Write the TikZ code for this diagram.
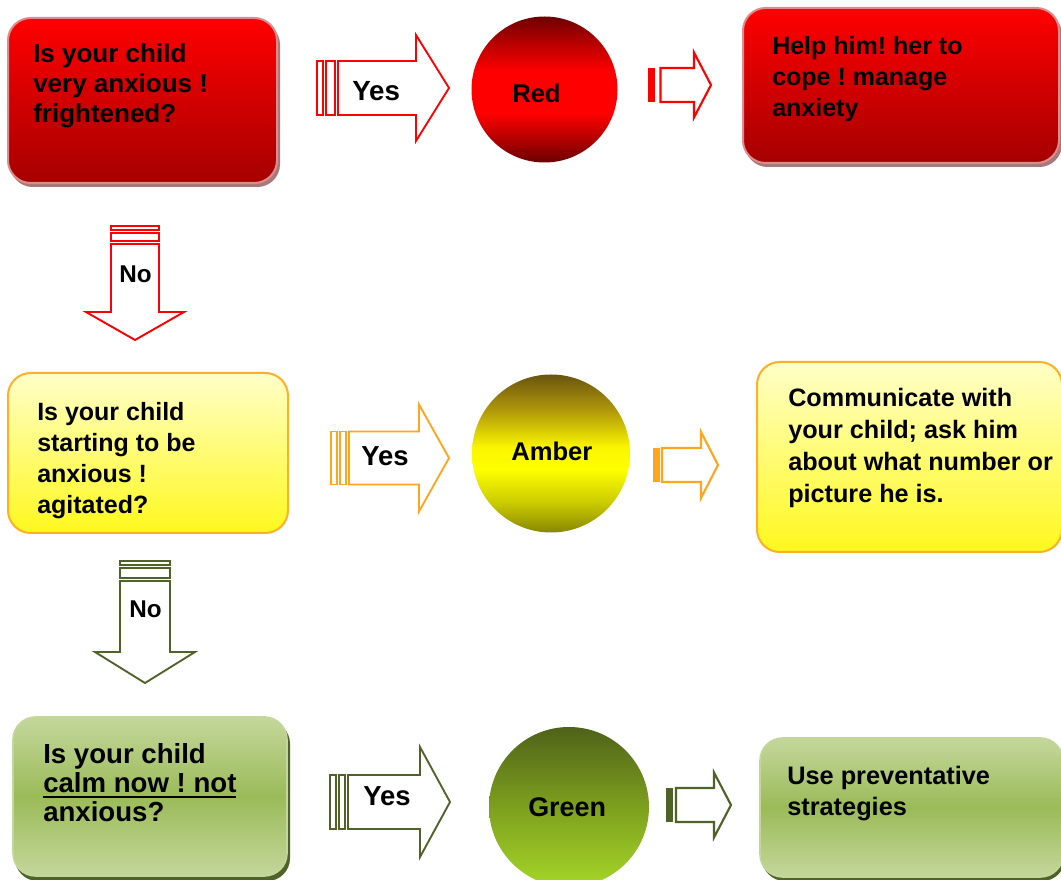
\documentclass[tikz,border=0pt]{standalone}
\usepackage{fontspec}
\setmainfont{Liberation Sans}
\frenchspacing
\definecolor{rArr}{RGB}{255,0,0}
\definecolor{oArr}{RGB}{255,165,30}
\definecolor{gArr}{RGB}{79,98,40}
\definecolor{redTop}{RGB}{255,0,0}
\definecolor{redBot}{RGB}{165,0,0}
\definecolor{redEdge}{RGB}{220,140,140}
\definecolor{redShadow}{RGB}{120,50,50}
\definecolor{yelTop}{RGB}{255,255,200}
\definecolor{yelBot}{RGB}{255,248,30}
\definecolor{yelEdge}{RGB}{255,175,40}
\definecolor{grnLight}{RGB}{196,215,155}
\definecolor{grnMid}{RGB}{155,187,89}
\definecolor{grnShadow}{RGB}{79,98,40}
\pgfdeclareverticalshading{redball}{100bp}{%
  color(0bp)=(red!42!black); color(25bp)=(red!42!black); color(33bp)=(red!70!black);
  color(42bp)=(red); color(56bp)=(red); color(66bp)=(red!72!black);
  color(75bp)=(red!43!black); color(100bp)=(red!43!black)}
\pgfdeclareverticalshading{amberball}{100bp}{%
  color(0bp)=(rgb,255:red,135;green,135;blue,0); color(25bp)=(rgb,255:red,135;green,135;blue,0);
  color(34bp)=(rgb,255:red,200;green,200;blue,0); color(45bp)=(rgb,255:red,255;green,255;blue,0);
  color(52bp)=(rgb,255:red,250;green,245;blue,0); color(64bp)=(rgb,255:red,175;green,150;blue,10);
  color(75bp)=(rgb,255:red,105;green,85;blue,15); color(100bp)=(rgb,255:red,105;green,85;blue,15)}
\newcommand\ulin[1]{\setbox0\hbox{#1}\rlap{\rule[-4.6pt]{\wd0}{1.6pt}}\box0}
% big right block arrow: colour, stripe start, body left, head base, tip, centre y, half body, half head
\newcommand\bigright[8]{%
  \draw[#1,line width=1.1pt] (#2,#6-#7) rectangle (#2+6,#6+#7);
  \draw[#1,line width=1.1pt] (#2+9,#6-#7) rectangle (#3-3,#6+#7);
  \draw[#1,line width=1.4pt,line join=miter] (#3,#6-#7) -- (#4,#6-#7) -- (#4,#6-#8) -- (#5,#6) -- (#4,#6+#8) -- (#4,#6+#7) -- (#3,#6+#7) -- cycle;}
% small right block arrow: colour, bar start, body left, head base, tip, centre y, half body, half head
\newcommand\smallright[8]{%
  \fill[#1] (#2,#6-#7) rectangle (#2+7,#6+#7);
  \draw[#1,line width=1.6pt,line join=miter] (#3,#6-#7) -- (#4,#6-#7) -- (#4,#6-#8) -- (#5,#6) -- (#4,#6+#8) -- (#4,#6+#7) -- (#3,#6+#7) -- cycle;}
% big down block arrow: colour, stripe top, body top, head base, tip, centre x, half body, half head
\newcommand\bigdown[8]{%
  \draw[#1,line width=1.1pt] (#6-#7,#2) rectangle (#6+#7,#2+4);
  \draw[#1,line width=1.1pt] (#6-#7,#2+7) rectangle (#6+#7,#3-3);
  \draw[#1,line width=1.4pt,line join=miter] (#6-#7,#3) -- (#6-#7,#4) -- (#6-#8,#4) -- (#6,#5) -- (#6+#8,#4) -- (#6+#7,#4) -- (#6+#7,#3) -- cycle;}
\tikzset{
  txt/.style 2 args={anchor=base west, inner sep=0pt, font=\bfseries\fontsize{#1}{#2}\selectfont},
  redbox/.style={rounded corners=17pt, top color=redTop, bottom color=redBot, draw=redEdge, line width=1.5pt},
  redshadow/.style={rounded corners=17pt, fill=redShadow, fill opacity=0.65},
  yelbox/.style={rounded corners=17pt, top color=yelTop, bottom color=yelBot, draw=yelEdge, line width=1.5pt},
  grnbox/.style={rounded corners=17pt, top color=grnLight, bottom color=grnLight, middle color=grnMid, draw=grnLight, line width=1.2pt},
  grnshadow/.style={rounded corners=17pt, fill=grnShadow},
  ball/.style={circle, inner sep=0pt, minimum size=#1},
}
\begin{document}
\begin{tikzpicture}[x=0.75pt,y=-0.75pt]
\useasboundingbox (0,0) rectangle (1061,880);
\clip (0,0) rectangle (1061,880);
\fill[white] (0,0) rectangle (1061,880);

% ---------- row 1 (red) ----------
\fill[redshadow] (10,22) rectangle (280,187);
\draw[redbox] (8,18) rectangle (277,183);
\node[txt={19.5}{22.5}] (q1) at (33,63) {\begin{tabular}[t]{@{}l@{}}Is your child\\very anxious !\\frightened?\end{tabular}};

\bigright{rArr}{317}{338}{416}{449}{88}{27}{53}
\node[txt={20.8}{24}] (y1) at (352,101) {Yes};

\node[ball=109.5pt, shading=redball] (c1) at (544.5,89.5) {};
\node[txt={19.2}{22}] (c1t) at (512,103) {Red};

\smallright{rArr}{648}{660.5}{694}{711}{85}{17}{32.5}

\fill[redshadow] (745,12) rectangle (1062,167);
\draw[redbox] (743,8) rectangle (1059,163);
\node[txt={18.75}{23.25}] (a1) at (772,55) {\begin{tabular}[t]{@{}l@{}}Help him! her to\\cope ! manage\\anxiety\end{tabular}};

% ---------- down arrow 1 ----------
\bigdown{rArr}{226}{244}{312}{340}{135}{24}{49}
\node[txt={18.2}{22}] (n1) at (119,283) {No};

% ---------- row 2 (amber) ----------
\draw[yelbox] (8,373) rectangle (288,533);
\node[txt={18.75}{23.25}] (q2) at (37,421) {\begin{tabular}[t]{@{}l@{}}Is your child\\starting to be\\anxious !\\agitated?\end{tabular}};

\bigright{oArr}{331}{349}{419}{449}{458}{26.5}{53.5}
\node[txt={20.6}{24}] (y2) at (361,466) {Yes};

\node[ball=118.5pt, shading=amberball] (c2) at (551,453.5) {};
\node[txt={19.2}{22}] (c2t) at (511,461) {Amber};

\smallright{oArr}{653}{662}{701}{718}{465}{17}{33}

\draw[yelbox] (757,362) rectangle (1062,552);
\node[txt={18.9}{24}] (a2) at (788,407) {\begin{tabular}[t]{@{}l@{}}Communicate with\\your child; ask him\\about what number or\\picture he is.\end{tabular}};

% ---------- down arrow 2 ----------
\bigdown{gArr}{561}{581}{652}{683}{145}{25}{50}
\node[txt={18.2}{22}] (n2) at (129,618) {No};

% ---------- row 3 (green) ----------
\fill[grnshadow] (15,721) rectangle (290,881);
\draw[grnbox] (13,717) rectangle (287,876);
\node[txt={20.7}{21.75}] (q3) at (43,763) {\begin{tabular}[t]{@{}l@{}}Is your child\\\ulin{calm now ! not}\\anxious?\end{tabular}};

\bigright{gArr}{330}{348}{420}{450}{802}{27}{55}
\node[txt={20.6}{24}] (y3) at (363,805) {Yes};

\node[ball=120pt, top color={rgb,255:red,79;green,98;blue,25}, bottom color={rgb,255:red,166;green,214;blue,40}, middle color={rgb,255:red,125;green,160;blue,30}] (c3) at (569,807) {};
\node[txt={20.2}{22}] (c3t) at (528,816) {Green};

\smallright{gArr}{666}{676}{714}{731}{805}{17}{32.5}

\fill[grnshadow] (762,742) rectangle (1065,881);
\draw[grnbox] (760,738) rectangle (1063,877);
\node[txt={19}{23.25}] (a3) at (787,784) {\begin{tabular}[t]{@{}l@{}}Use preventative\\strategies\end{tabular}};
\end{tikzpicture}
\end{document}
